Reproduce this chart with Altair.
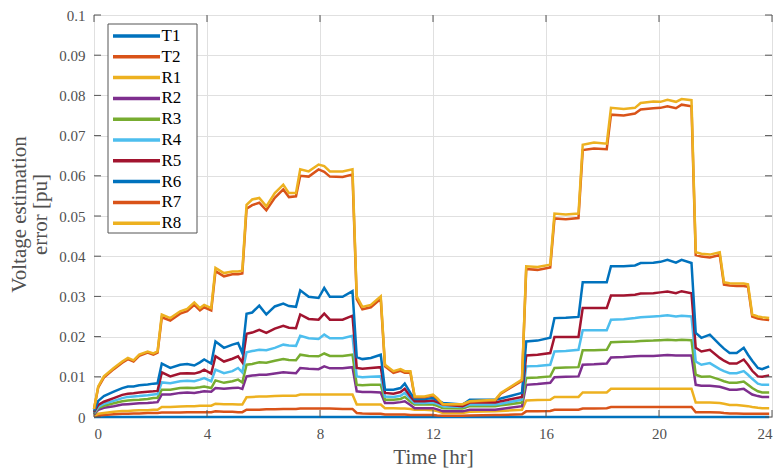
import altair as alt
import pandas as pd

# Time axis (hours)
time_hr = [0, 0.15, 0.35, 0.7, 1.0, 1.2, 1.4, 1.6, 1.9, 2.1,
           2.25, 2.4, 2.7, 3.05, 3.3, 3.55, 3.75, 3.9, 4.15, 4.3,
           4.6, 4.9, 5.1, 5.25, 5.4, 5.6, 5.85, 6.1, 6.4, 6.7,
           6.9, 7.15, 7.3, 7.6, 7.95, 8.15, 8.35, 8.8, 9.15, 9.3,
           9.5, 9.8, 10.15, 10.3, 10.6, 10.85, 11.0, 11.2, 11.35, 11.7,
           12.0, 12.15, 12.35, 13.05, 13.3, 14.2, 14.4, 15.15, 15.3, 15.7,
           16.15, 16.3, 16.7, 17.15, 17.3, 17.7, 18.15, 18.3, 18.75, 19.15,
           19.35, 19.8, 20.05, 20.3, 20.6, 20.8, 21.15, 21.3, 21.5, 21.8,
           22.15, 22.3, 22.5, 22.75, 23.0, 23.15, 23.3, 23.5, 23.65, 23.9]

# Voltage estimation error, in units of 0.01 pu
T1 = [0, 0, 0, 0, 0, 0, 0, 0, 0, 0,
      0, 0, 0, 0, 0, 0, 0, 0, 0, 0,
      0, 0, 0, 0, 0, 0, 0, 0, 0, 0,
      0, 0, 0, 0, 0, 0, 0, 0, 0, 0,
      0, 0, 0, 0, 0, 0, 0, 0, 0, 0,
      0, 0, 0, 0, 0, 0, 0, 0, 0, 0,
      0, 0, 0, 0, 0, 0, 0, 0, 0, 0,
      0, 0, 0, 0, 0, 0, 0, 0, 0, 0,
      0, 0, 0, 0, 0, 0, 0, 0, 0, 0]

T2 = [0.01, 0.04, 0.05, 0.07, 0.08, 0.08, 0.09, 0.09, 0.10, 0.10,
      0.10, 0.11, 0.11, 0.11, 0.12, 0.12, 0.12, 0.12, 0.12, 0.14,
      0.13, 0.13, 0.12, 0.12, 0.18, 0.18, 0.18, 0.19, 0.19, 0.20,
      0.20, 0.20, 0.21, 0.21, 0.21, 0.21, 0.21, 0.20, 0.20, 0.10,
      0.09, 0.08, 0.08, 0.06, 0.06, 0.06, 0.06, 0.05, 0.05, 0.05,
      0.05, 0.04, 0.03, 0.03, 0.04, 0.05, 0.05, 0.07, 0.14, 0.14,
      0.15, 0.18, 0.18, 0.18, 0.21, 0.21, 0.22, 0.25, 0.25, 0.25,
      0.25, 0.25, 0.25, 0.25, 0.25, 0.25, 0.25, 0.12, 0.12, 0.12,
      0.11, 0.10, 0.09, 0.09, 0.08, 0.08, 0.08, 0.08, 0.08, 0.08]

R1 = [0.03, 0.08, 0.10, 0.13, 0.15, 0.15, 0.16, 0.17, 0.17, 0.18,
      0.18, 0.25, 0.25, 0.26, 0.27, 0.27, 0.28, 0.28, 0.28, 0.33,
      0.32, 0.32, 0.31, 0.31, 0.49, 0.50, 0.51, 0.51, 0.52, 0.53,
      0.53, 0.53, 0.56, 0.56, 0.56, 0.56, 0.56, 0.56, 0.56, 0.31,
      0.31, 0.31, 0.31, 0.22, 0.22, 0.21, 0.21, 0.20, 0.18, 0.18,
      0.17, 0.15, 0.10, 0.10, 0.13, 0.14, 0.15, 0.18, 0.41, 0.42,
      0.43, 0.50, 0.50, 0.50, 0.61, 0.61, 0.61, 0.70, 0.70, 0.70,
      0.70, 0.70, 0.70, 0.70, 0.70, 0.70, 0.70, 0.36, 0.36, 0.36,
      0.35, 0.33, 0.30, 0.30, 0.28, 0.27, 0.25, 0.23, 0.22, 0.22]

R2 = [0.06, 0.18, 0.23, 0.27, 0.31, 0.32, 0.33, 0.34, 0.35, 0.36,
      0.37, 0.56, 0.56, 0.60, 0.61, 0.60, 0.62, 0.64, 0.63, 0.72,
      0.70, 0.72, 0.73, 0.70, 1.01, 1.03, 1.05, 1.05, 1.08, 1.11,
      1.10, 1.09, 1.22, 1.20, 1.19, 1.26, 1.21, 1.21, 1.24, 0.64,
      0.62, 0.62, 0.61, 0.35, 0.35, 0.37, 0.39, 0.30, 0.22, 0.22,
      0.22, 0.19, 0.14, 0.14, 0.18, 0.18, 0.20, 0.27, 0.80, 0.82,
      0.85, 0.99, 1.00, 1.01, 1.30, 1.31, 1.33, 1.48, 1.49, 1.51,
      1.52, 1.52, 1.53, 1.54, 1.53, 1.53, 1.53, 0.80, 0.78, 0.78,
      0.75, 0.72, 0.68, 0.68, 0.70, 0.63, 0.56, 0.52, 0.50, 0.50]

R3 = [0.08, 0.22, 0.28, 0.34, 0.39, 0.41, 0.42, 0.43, 0.45, 0.47,
      0.48, 0.68, 0.68, 0.72, 0.73, 0.72, 0.74, 0.76, 0.72, 0.91,
      0.85, 0.89, 0.93, 0.86, 1.30, 1.32, 1.36, 1.35, 1.40, 1.44,
      1.42, 1.41, 1.55, 1.52, 1.51, 1.58, 1.52, 1.52, 1.55, 0.80,
      0.79, 0.80, 0.80, 0.43, 0.43, 0.45, 0.50, 0.38, 0.31, 0.31,
      0.31, 0.28, 0.22, 0.21, 0.27, 0.27, 0.29, 0.36, 0.97, 0.98,
      1.01, 1.22, 1.23, 1.24, 1.66, 1.66, 1.67, 1.86, 1.87, 1.88,
      1.89, 1.90, 1.91, 1.92, 1.91, 1.92, 1.91, 1.05, 1.00, 1.01,
      0.93, 0.89, 0.85, 0.85, 0.88, 0.80, 0.72, 0.64, 0.61, 0.61]

R4 = [0.10, 0.25, 0.33, 0.40, 0.47, 0.50, 0.51, 0.52, 0.54, 0.56,
      0.57, 0.86, 0.84, 0.89, 0.90, 0.89, 0.93, 0.97, 0.89, 1.18,
      1.09, 1.14, 1.22, 1.11, 1.61, 1.64, 1.67, 1.66, 1.72, 1.80,
      1.78, 1.77, 2.02, 1.96, 1.94, 2.05, 1.96, 1.96, 2.02, 1.01,
      0.99, 1.00, 1.01, 0.51, 0.50, 0.53, 0.60, 0.45, 0.35, 0.35,
      0.36, 0.33, 0.27, 0.25, 0.31, 0.31, 0.33, 0.43, 1.26, 1.27,
      1.30, 1.63, 1.64, 1.67, 2.16, 2.16, 2.16, 2.42, 2.43, 2.46,
      2.48, 2.50, 2.51, 2.53, 2.50, 2.52, 2.50, 1.38, 1.30, 1.34,
      1.19, 1.14, 1.09, 1.09, 1.14, 1.05, 0.95, 0.83, 0.80, 0.80]

R5 = [0.12, 0.30, 0.38, 0.47, 0.55, 0.58, 0.59, 0.61, 0.63, 0.64,
      0.65, 1.11, 1.01, 1.08, 1.09, 1.08, 1.12, 1.18, 1.08, 1.51,
      1.38, 1.45, 1.51, 1.36, 2.07, 2.10, 2.17, 2.09, 2.20, 2.27,
      2.22, 2.21, 2.55, 2.44, 2.42, 2.57, 2.42, 2.42, 2.52, 1.22,
      1.20, 1.22, 1.24, 0.60, 0.58, 0.62, 0.70, 0.51, 0.39, 0.39,
      0.41, 0.37, 0.31, 0.27, 0.36, 0.36, 0.39, 0.50, 1.53, 1.55,
      1.59, 1.99, 1.99, 1.99, 2.71, 2.71, 2.71, 3.02, 3.02, 3.04,
      3.07, 3.08, 3.10, 3.12, 3.08, 3.13, 3.08, 1.72, 1.63, 1.67,
      1.47, 1.40, 1.33, 1.33, 1.43, 1.30, 1.15, 1.01, 1.00, 1.03]

R6 = [0.15, 0.40, 0.52, 0.63, 0.72, 0.76, 0.76, 0.79, 0.81, 0.83,
      0.84, 1.33, 1.22, 1.30, 1.32, 1.28, 1.36, 1.43, 1.33, 1.88,
      1.72, 1.80, 1.84, 1.59, 2.57, 2.60, 2.77, 2.55, 2.75, 2.82,
      2.76, 2.74, 3.15, 2.99, 2.96, 3.21, 2.99, 2.99, 3.13, 1.49,
      1.44, 1.47, 1.55, 0.68, 0.68, 0.72, 0.83, 0.60, 0.45, 0.45,
      0.47, 0.42, 0.35, 0.31, 0.43, 0.43, 0.46, 0.60, 1.88, 1.90,
      1.97, 2.46, 2.47, 2.49, 3.35, 3.35, 3.35, 3.75, 3.75, 3.77,
      3.83, 3.84, 3.86, 3.91, 3.84, 3.91, 3.83, 2.09, 1.97, 2.05,
      1.80, 1.70, 1.59, 1.59, 1.72, 1.55, 1.40, 1.22, 1.19, 1.26]

R7 = [0.20, 0.74, 0.98, 1.19, 1.35, 1.44, 1.38, 1.52, 1.60, 1.55,
      1.60, 2.48, 2.40, 2.57, 2.63, 2.79, 2.65, 2.73, 2.65, 3.63,
      3.50, 3.55, 3.55, 3.57, 5.18, 5.27, 5.33, 5.14, 5.45, 5.66,
      5.47, 5.49, 6.00, 5.98, 6.16, 6.10, 5.98, 5.97, 6.03, 2.93,
      2.68, 2.73, 2.94, 1.26, 1.10, 1.15, 1.10, 1.10, 0.49, 0.49,
      0.54, 0.45, 0.31, 0.31, 0.37, 0.41, 0.58, 0.90, 3.68, 3.66,
      3.72, 4.94, 4.92, 4.95, 6.64, 6.68, 6.66, 7.52, 7.50, 7.55,
      7.65, 7.68, 7.69, 7.73, 7.68, 7.77, 7.73, 4.03, 3.99, 3.97,
      4.03, 3.29, 3.27, 3.26, 3.26, 3.24, 2.50, 2.45, 2.43, 2.41]

R8 = [0.20, 0.76, 1.01, 1.22, 1.38, 1.47, 1.41, 1.55, 1.63, 1.58,
      1.63, 2.55, 2.46, 2.63, 2.69, 2.85, 2.71, 2.79, 2.71, 3.71,
      3.58, 3.62, 3.62, 3.64, 5.28, 5.41, 5.45, 5.24, 5.57, 5.78,
      5.57, 5.57, 6.16, 6.11, 6.28, 6.24, 6.11, 6.11, 6.16, 3.00,
      2.74, 2.79, 3.00, 1.30, 1.14, 1.19, 1.14, 1.14, 0.51, 0.51,
      0.56, 0.47, 0.32, 0.32, 0.39, 0.43, 0.60, 0.93, 3.75, 3.73,
      3.79, 5.06, 5.04, 5.06, 6.77, 6.83, 6.80, 7.69, 7.66, 7.69,
      7.81, 7.85, 7.84, 7.89, 7.84, 7.91, 7.88, 4.10, 4.06, 4.04,
      4.10, 3.35, 3.33, 3.32, 3.32, 3.30, 2.55, 2.50, 2.48, 2.46]

series_names = ["T1", "T2", "R1", "R2", "R3", "R4", "R5", "R6", "R7", "R8"]
series_values = [T1, T2, R1, R2, R3, R4, R5, R6, R7, R8]
series_colors = ["#0072BD", "#D95319", "#EDB120", "#7E2F8E", "#77AC30",
                 "#4DBEEE", "#A2142F", "#0072BD", "#D95319", "#EDB120"]

y_ticks = [0, 0.01, 0.02, 0.03, 0.04, 0.05, 0.06, 0.07, 0.08, 0.09, 0.1]
x_ticks = [0, 4, 8, 12, 16, 20, 24]

rows = []
for name, vals in zip(series_names, series_values):
    assert len(vals) == len(time_hr), name
    for t, v in zip(time_hr, vals):
        rows.append({"Time": t, "Series": name, "Error": v / 100.0})
df = pd.DataFrame(rows)

W, H = 678, 402
FONT = "Liberation Serif"
AX = "#505050"
BOX = "#555555"
TICK = 7

xscale = alt.Scale(domain=[0, 24], nice=False, zero=False)
yscale = alt.Scale(domain=[0, 0.1], nice=False)

x_axis = alt.Axis(values=x_ticks, format="d", title="Time [hr]",
                  grid=True, ticks=False, domain=False, labelOverlap=False,
                  labelPadding=9, titleY=40, titleBaseline="middle")
y_axis = alt.Axis(values=y_ticks, labelExpr="format(datum.value, '.2~f')",
                  title=["Voltage estimation", "error [pu]"],
                  grid=True, ticks=False, domain=False, labelOverlap=False,
                  labelPadding=9, titleX=-75, titleY=199,
                  titleBaseline="middle", titleLineHeight=21)

lines = alt.Chart(df).mark_line(strokeWidth=2.5, clip=False).encode(
    x=alt.X("Time:Q", scale=xscale, axis=x_axis),
    y=alt.Y("Error:Q", scale=yscale, axis=y_axis),
    color=alt.Color("Series:N",
                    scale=alt.Scale(domain=series_names, range=series_colors),
                    legend=alt.Legend(title=None, orient="none", legendX=14, legendY=6,
                                      symbolType="M-2.35,0H2.35", symbolSize=400,
                                      symbolStrokeWidth=3.5, symbolOffset=13.5,
                                      labelOffset=13, labelFont=FONT, labelFontSize=17,
                                      labelColor="black", padding=3, rowPadding=0.8)),
)

# legend frame (white box with grey border), drawn over the plot area
frame_df = pd.DataFrame({"frame": ["legend"]})
legend_frame = alt.Chart(frame_df).mark_rect(
    fill="white", stroke=BOX, strokeWidth=1
).encode(x=alt.value(14), x2=alt.value(103), y=alt.value(9), y2=alt.value(218))

ydf = pd.DataFrame({"Error": y_ticks})
xdf = pd.DataFrame({"Time": x_ticks})

left_ticks = alt.Chart(ydf).mark_rule(color=BOX, strokeWidth=1).encode(
    y=alt.Y("Error:Q"), x=alt.value(0), x2=alt.value(TICK))
right_ticks = alt.Chart(ydf).mark_rule(color=BOX, strokeWidth=1).encode(
    y=alt.Y("Error:Q"), x=alt.value(W - TICK), x2=alt.value(W))
bottom_ticks = alt.Chart(xdf).mark_rule(color=BOX, strokeWidth=1).encode(
    x=alt.X("Time:Q"), y=alt.value(H - TICK), y2=alt.value(H))
top_ticks = alt.Chart(xdf).mark_rule(color=BOX, strokeWidth=1).encode(
    x=alt.X("Time:Q"), y=alt.value(0), y2=alt.value(TICK))

chart = alt.layer(lines, left_ticks, right_ticks, bottom_ticks, top_ticks,
                  legend_frame).properties(
    width=W, height=H,
    autosize=alt.AutoSizeParams(type="none"),
    padding={"left": 86, "top": 7, "right": 2, "bottom": 52},
    background="white",
).configure_view(
    stroke=BOX, strokeWidth=1
).configure_axis(
    labelFont=FONT, labelFontSize=15, labelColor=AX, labelOverlap=False,
    titleFont=FONT, titleFontSize=21, titleColor=AX, titleFontWeight="normal",
    gridColor="#e0e0e0", gridWidth=1, gridOpacity=1,
)

chart.save("out.html", embed_options={"renderer": "svg", "actions": False})
